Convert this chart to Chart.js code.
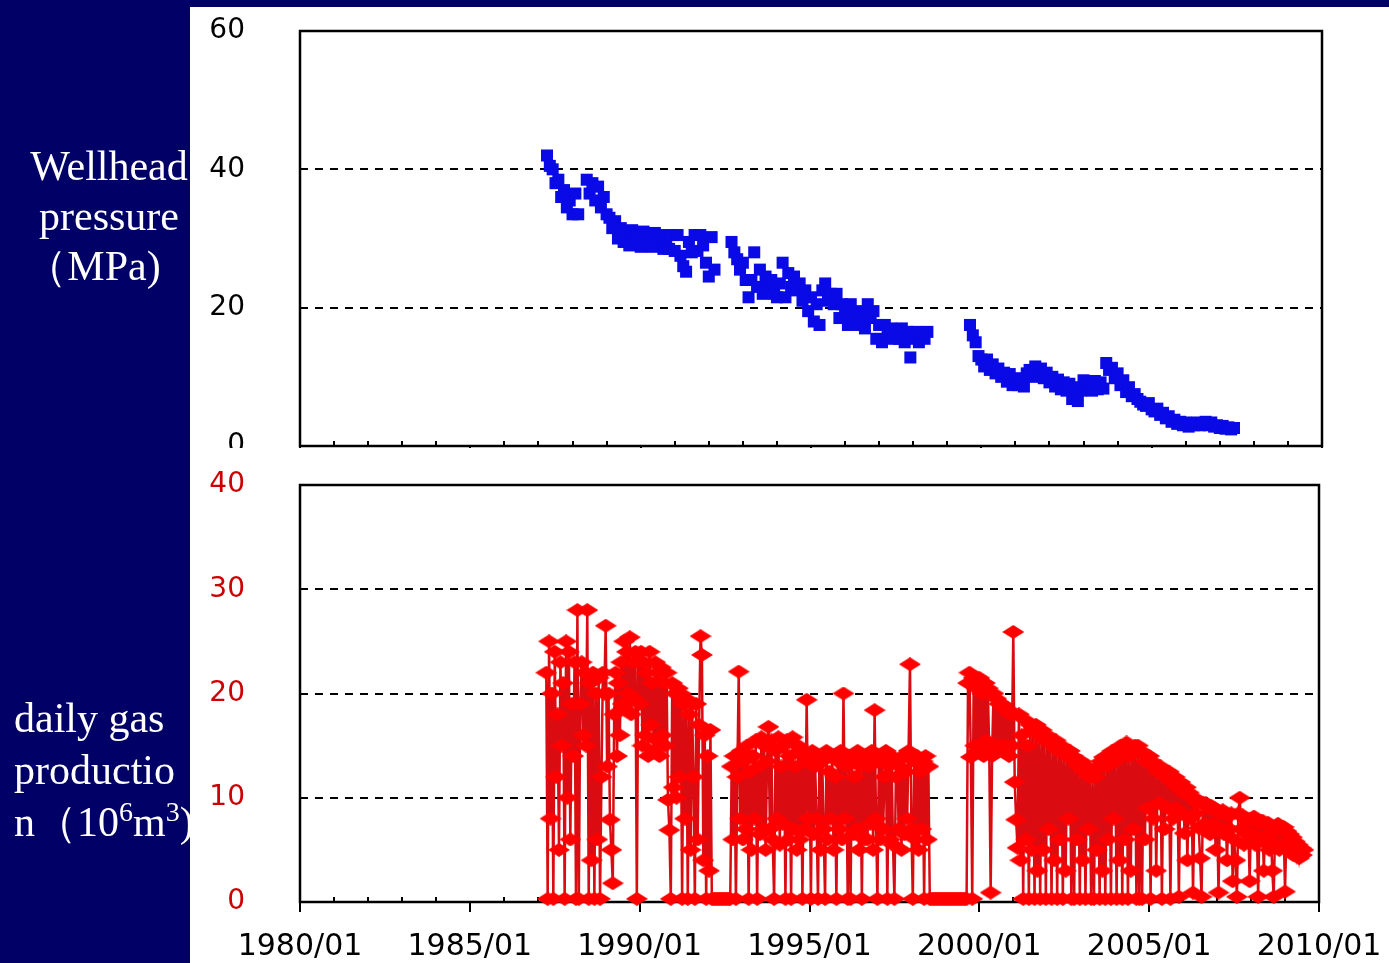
<!DOCTYPE html>
<html>
<head>
<meta charset="utf-8">
<script src="https://cdn.jsdelivr.net/npm/chart.js@4.4.0/dist/chart.umd.min.js"></script>
<style>
  body { margin: 0; width: 1389px; height: 963px; background: #000066; overflow: hidden; position: relative; }
  #white { position: absolute; left: 190px; top: 7px; width: 1199px; height: 956px; background: #fff; }
  canvas { position: absolute; left: 190px; }
  #pressure { top: 7px; width: 1199px; height: 441px; }
  #gas { top: 448px; width: 1199px; height: 515px; }
  .lbl { position: absolute; color: #fff; font-family: "Liberation Serif", "Times New Roman", serif; font-size: 42px; white-space: nowrap; }
  #lblP { left: 26px; width: 166px; top: 141px; line-height: 50px; text-align: center; }
  #lblP span { position: relative; left: -16px; }
  #lblG { left: 14px; top: 692px; line-height: 52px; }
  .lbl sup { font-size: 28px; vertical-align: baseline; position: relative; top: -15px; line-height: 0; }
</style>
</head>
<body>
<div id="white"></div>
<canvas id="pressure" width="1199" height="441"></canvas>
<canvas id="gas" width="1199" height="515"></canvas>
<div class="lbl" id="lblP">Wellhead<br>pressure<br><span>（MPa)</span></div>
<div class="lbl" id="lblG">daily gas<br>productio<br>n（10<sup>6</sup>m<sup>3</sup>)</div>
<script>
// wellhead pressure (MPa), monthly readings, one array per producing period
const pressure1987 = [42, 40.5, 40, 38, 38.5, 36, 37, 34.5, 35.5, 33.5, 36.5, 33.5];
const pressure1988 = [38.5, 36.5, 38, 35.5, 37.5, 34.5, 36, 33.5, 33, 31.5, 32.5, 30, 31.5, 29.5, 31, 29,
  31.2, 29.5, 30.8, 28.8, 31, 29.2, 30.5, 28.8, 30.8, 29, 30.5, 28.5, 30, 28.5, 30.5, 28.2,
  30.5, 27.5, 26, 25.2, 29.5, 28, 30.5, 28.2, 30.5, 29, 26.5, 24.5, 30.2, 25.5];
const pressure1992 = [29.5, 28, 27, 25.5, 26.5, 24, 21.5, 24, 28, 23, 25.5, 22, 24.5, 23, 24, 22,
  21.5, 23.5, 26.5, 21.5, 25, 23, 24.5, 22.5, 23.5, 21, 22.5, 19.5, 21.5, 18, 20.5, 17.5,
  22.5, 23.5, 21, 22, 20.5, 22, 18.5, 20.5, 19, 17.5, 20.5, 18, 19.5, 17.5, 19, 17,
  20.5, 18.5, 19.5, 15.5, 17.5, 15, 17.5, 16, 17, 15.5, 16.5, 15.5, 17, 15, 16.5, 12.8,
  15.5, 16.5, 15, 16, 15.5, 16.5];
const pressure1999 = [17.5, 16, 15, 13, 12.5, 11.5, 12.5, 11, 11.8, 10.5, 11.2, 10, 10.6, 9.3, 10.4, 8.8,
  9.8, 8.8, 9.6, 8.6, 10.5, 11, 10, 11.5, 10.2, 11.2, 9.8, 10.6, 9.2, 10, 8.6, 9.6,
  8.2, 9.2, 8, 9, 6.8, 8.5, 6.5, 8, 9.5, 8.2, 9.2, 8, 9.4, 8.2, 9.2, 8.3];
const pressure2003 = [12, 11, 11.3, 9.8, 10.5, 8.8, 9.5, 7.8, 8.5, 7.2, 7.5, 6.8, 6.4, 6, 5.8, 6.2,
  5.3, 5, 5.4, 4.5, 4.8, 4, 4.3, 3.5, 3.8, 3.2, 3.5, 3, 3.4, 2.8, 3.2, 3,
  3.4, 3, 3.3, 3.5, 3, 3.4, 2.8, 3, 2.6, 2.9, 2.5, 2.7, 2.4, 2.6];
// first month of each period (decimal year)
const pressureStarts = [1987.25, 1988.4167, 1992.6667, 1999.6667, 2003.6667];

// daily gas production (10^6 m3), sampled every half month from 1987.25
const gas1987to1992 = [22, 0.3, 25, 8, 20, 0.3, 24, 12, 18, 5, 23, 15, 21, 0.3, 25, 10, 24, 6, 19, 14, 23, 0.3,
  28, 0.3, 19, 23, 16, 22, 15, 28,
  0.3, 21, 4, 22, 0.3, 20, 6, 21.5, 0.3, 12,
  22, 20, 26.5,
  13, 20, 7.9, 5, 1.8, 18, 22, 14, 21, 16,
  23, 19, 25, 18.5, 24, 20, 25.4, 18, 23, 19.5, 24, 0.3, 23, 19,
  24, 15, 23, 16, 22, 14, 24, 17, 21, 14.5, 23, 15.5, 22, 14, 22.5, 16, 21, 15,
  22, 9.8, 6.9, 0.3, 21, 11, 20, 10, 20.5, 12,
  20, 0.3, 19, 8, 19.5, 0.3, 18, 5, 19, 12, 0.3, 19, 6, 17,
  25.5, 23.7, 4, 16, 0.3, 14, 3, 16.5, 0.3, 0.3];
const gasShut1992 = [0.3, 0.3, 0.3, 0.3, 0.3, 0.3, 0.3, 0.3, 0.3, 0.3, 0.3];
const gas1992to1998 = [0.3, 13, 6, 14, 0.3, 12, 22.1, 8, 14.5, 6, 13.5, 7, 15, 0.3, 12.5, 5, 14, 8, 15.5, 0.3, 13, 6.5, 15.8, 7,
  15, 5, 13.5, 16.8, 7, 15.5, 6, 0.3, 14.5, 8, 15.8, 5.5, 13, 7.5, 15, 0.3, 15.5, 6, 14, 0.3, 15.8, 7, 13, 5,
  15, 6, 14.5, 0.3, 14, 7, 19.4, 8, 13.5, 0.3, 14.5, 6.5, 13, 8, 0.3, 14, 5, 13.5, 7, 0.3, 14.5, 6, 12.5, 8,
  14, 5, 12, 0.3, 13.5, 7, 14.5, 6, 20, 8, 13, 0.3, 14, 0.3, 13.5, 6.5, 12, 7, 14.5, 5, 13, 0.3, 14, 6,
  14, 6, 13, 7.5, 14.5, 5, 18.4, 8, 0.3, 13.5, 6, 14, 7, 12, 14.5, 0.3, 13, 6, 14, 5.5, 0.3, 12, 13.5, 7,
  13, 5, 14, 6.5, 12.5, 8, 14.5, 22.8, 7, 0.3, 13.5, 6, 14, 5, 12.5, 7, 13.5, 0.3, 14, 6, 13, 0.3];
const gasShut1998 = [0.3, 0.3, 0.3, 0.3, 0.3, 0.3, 0.3, 0.3, 0.3, 0.3, 0.3, 0.3, 0.3,
  0.3, 0.3, 0.3, 0.3, 0.3, 0.3, 0.3, 0.3, 0.3, 0.3, 0.3, 0.3, 0.3];
const gas1999to2009 = [21, 22, 13.9, 0.3, 21.5, 15, 20.5, 14.5, 21.5, 15, 20, 14, 21, 15.5, 20.5, 14.5, 0.9, 14, 20, 15, 19.5, 14.5, 19, 15,
  19, 14.5, 18.5, 15, 18.5, 14, 18, 15, 25.9, 11.5, 7.9, 5.2, 18, 4, 16, 0.3, 17.5, 6, 15, 0.3, 17, 5, 16.5, 0.3,
  17, 3, 16, 0.3, 16.5, 5, 15.5, 0.3, 16, 7, 15.5, 0.3, 15, 4, 15.5, 0.3, 14.5, 6, 15, 0.3, 14.5, 3, 14, 8,
  14.5, 0.3, 14, 0.3, 13.5, 6, 13, 0.3, 13.5, 4, 12.5, 0.3, 13, 7, 12, 0.3, 12.5, 0.3, 12, 5, 13, 0.3, 13.5, 3,
  13.9, 0.3, 13, 6, 14, 0.3, 14.5, 8, 13.5, 0.3, 14.5, 4, 15, 0.3, 14.5, 6, 15.3, 0.3, 14, 3, 14.5, 7, 15, 0.3,
  15, 0.3, 14.5, 0.3, 14.3, 6, 13.5, 9, 14, 0.3, 13.5, 8, 13, 3, 12.5, 9.5, 13, 0.3, 12.5, 7, 12, 9, 12.5, 0.3,
  11.5, 8, 12, 9, 11, 0.5, 11.5, 8.5, 10.5, 6.6, 11, 4, 10.5, 8, 10, 0.9, 10, 8.5, 9.5, 7.1, 4.2, 0.5, 9.5, 7.5,
  9.5, 7, 9, 6.5, 9.2, 7.5, 9, 5, 8.8, 0.9, 8.5, 7, 8.8, 6.5, 8.5, 4, 8.2, 7, 8.5, 2, 6, 4, 0.5, 8.5,
  10, 7, 8.3, 5.5, 8, 6.5, 7.8, 2, 8, 6.5, 8.2, 5.5, 7.8, 0.5, 7.5, 6, 7.8, 3, 7.5, 6, 7.6, 5, 6.5, 3,
  0.5, 7.2, 5.5, 7.5, 5, 7, 5.5, 7.2, 1, 6.8, 5, 6.5, 5.2, 6.2, 4.5, 5.8, 4.5, 5.5, 4.2, 5.2, 4.5, 5];
const gasStart = 1987.25;

const yearMin = 1980, yearMax = 2010;
const pressureTicks = [0, 20, 40, 60];
const gasTicks = [0, 10, 20, 30, 40];

// build point lists
const pressurePoints = [];
[pressure1987, pressure1988, pressure1992, pressure1999, pressure2003].forEach((vals, k) => {
  vals.forEach((v, i) => pressurePoints.push({ x: pressureStarts[k] + i / 12, y: v }));
});
const gasValues = [].concat(gas1987to1992, gasShut1992, gas1992to1998, gasShut1998, gas1999to2009);
const gasPoints = gasValues.map((v, i) => ({ x: gasStart + i / 24, y: v }));

// wide red diamond marker
const diamond = document.createElement('canvas');
diamond.width = 22;
diamond.height = 14;
const dctx = diamond.getContext('2d');
dctx.fillStyle = '#ff0000';
dctx.beginPath();
dctx.moveTo(0, 7);
dctx.lineTo(11, 0);
dctx.lineTo(22, 7);
dctx.lineTo(11, 14);
dctx.closePath();
dctx.fill();

// box around the plot plus yearly tick marks
const frame = {
  id: 'frame',
  beforeDatasetsDraw(chart) {
    const { ctx, chartArea: a } = chart;
    const x = chart.scales.x;
    ctx.save();
    ctx.strokeStyle = '#000';
    ctx.lineWidth = 2.5;
    ctx.strokeRect(a.left, a.top, a.right - a.left, a.bottom - a.top);
    ctx.lineWidth = 2;
    ctx.beginPath();
    for (let yr = yearMin; yr <= yearMax; yr++) {
      const px = Math.round(x.getPixelForValue(yr));
      if (yr % 5 === 0) {
        ctx.moveTo(px, a.bottom);
        ctx.lineTo(px, a.bottom + 10);
      } else {
        ctx.moveTo(px, a.bottom);
        ctx.lineTo(px, a.bottom - 5);
      }
    }
    ctx.stroke();
    ctx.restore();
  }
};

const yAxis = (max, tickValues, color) => ({
  min: 0,
  max: max,
  afterFit: s => { s.width = 110; s.paddingTop = 0; s.paddingBottom = 0; },
  afterBuildTicks: s => { s.ticks = tickValues.map(v => ({ value: v })); },
  ticks: { padding: 0, color: color, font: { family: 'DejaVu Sans', size: 28 } },
  grid: { color: '#000', lineWidth: 2, drawTicks: true, tickLength: 55, tickColor: 'rgba(0,0,0,0)' },
  border: { display: false, dash: [8, 7] }
});

new Chart(document.getElementById('pressure'), {
  type: 'scatter',
  data: {
    datasets: [{
      data: pressurePoints,
      pointStyle: 'rect',
      pointRadius: 8.5,
      backgroundColor: '#0a0ae6',
      borderWidth: 0
    }]
  },
  options: {
    responsive: false,
    animation: false,
    events: [],
    layout: { autoPadding: false, padding: { left: 0, right: 67, top: 24, bottom: 2 } },
    plugins: { legend: { display: false }, tooltip: { enabled: false } },
    scales: {
      x: { type: 'linear', min: yearMin, max: yearMax, display: false },
      y: yAxis(60, pressureTicks, '#000')
    }
  },
  plugins: [frame]
});

new Chart(document.getElementById('gas'), {
  type: 'line',
  data: {
    datasets: [{
      data: gasPoints,
      borderColor: 'rgb(218, 12, 18)',
      borderWidth: 2.5,
      tension: 0,
      pointStyle: diamond,
      pointRadius: 6,
      clip: false
    }]
  },
  options: {
    responsive: false,
    animation: false,
    events: [],
    layout: { autoPadding: false, padding: { left: 0, right: 70, top: 37, bottom: 0 } },
    plugins: { legend: { display: false }, tooltip: { enabled: false } },
    scales: {
      x: {
        type: 'linear',
        min: yearMin,
        max: yearMax,
        afterFit: s => { s.height = 61; s.paddingLeft = 0; s.paddingRight = 0; },
        ticks: {
          stepSize: 5,
          autoSkip: false,
          maxRotation: 0,
          padding: 0,
          color: '#000',
          font: { family: 'DejaVu Sans', size: 30 },
          callback: v => v + '/01'
        },
        grid: { display: true, drawOnChartArea: false, drawTicks: true, tickLength: 27, tickColor: 'rgba(0,0,0,0)' },
        border: { display: false }
      },
      y: yAxis(40, gasTicks, '#cc0000')
    }
  },
  plugins: [frame]
});
</script>
</body>
</html>
